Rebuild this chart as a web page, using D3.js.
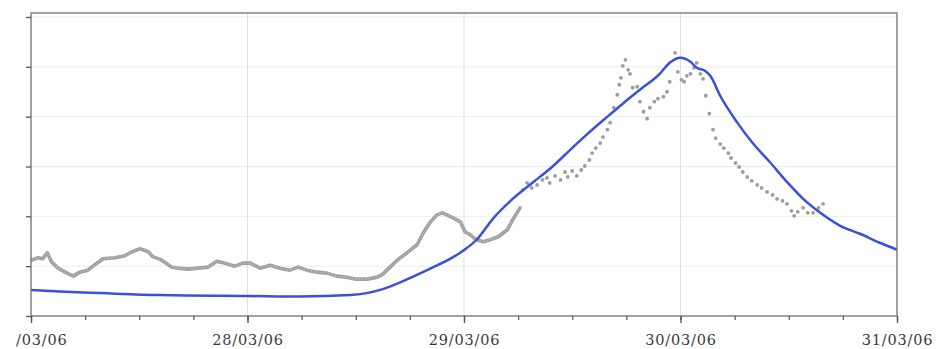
<!DOCTYPE html>
<html>
<head>
<meta charset="utf-8">
<script src="https://cdn.jsdelivr.net/npm/d3@7"></script>
<style>
  html, body { margin: 0; padding: 0; background: #fff; }
  svg { display: block; }
</style>
</head>
<body>
<div id="chart"></div>
<script>
// Time axis: hours elapsed since 27/03/06 00:00
const startTime = new Date(2006, 2, 27, 0, 0);
const endTime = new Date(2006, 2, 31, 0, 0);

// Modelled series (blue line)
const modelHours = [0, 3.2, 7.7, 14.3, 24.3, 29.8, 35.4, 39.0, 42.0, 44.6, 46.5, 47.9, 49.4, 51.2, 53.4,
  55.7, 57.5, 60.1, 61.6, 63.9, 65.6, 67.5, 69.7, 70.8, 72.0, 73.1, 73.8, 74.7, 75.3, 76.4, 78.3,
  80.0, 81.9, 83.8, 85.6, 87.5, 89.7, 91.9, 94.1, 96.0];
const modelValues = [5.2, 4.9, 4.6, 4.2, 4.0, 3.9, 4.2, 5.4, 7.6, 9.8, 11.5, 13.1, 15.3, 19.5, 23.5,
  26.9, 29.5, 33.9, 36.4, 40.0, 42.6, 45.4, 48.6, 50.8, 51.8, 51.0, 49.8, 49.2, 48.2, 44.2, 38.8,
  34.7, 30.9, 26.9, 23.5, 20.7, 18.1, 16.5, 14.7, 13.3];

// Observed series, continuous record (grey trace)
const obsHours = [0.1, 0.8, 1.3, 1.8, 2.3, 3.0, 4.0, 4.7, 5.4, 6.3, 7.3, 8.0, 9.3, 10.4, 11.2, 12.1,
  13.0, 13.5, 14.5, 15.6, 16.3, 17.4, 18.5, 19.6, 20.6, 21.5, 22.6, 23.5, 24.3, 25.4, 26.5, 27.6,
  28.7, 29.6, 30.6, 31.7, 32.8, 33.9, 35.0, 35.9, 37.3, 38.4, 39.0, 39.8, 40.6, 41.7, 42.8, 43.5,
  44.2, 45.0, 45.6, 46.1, 46.8, 47.6, 48.1, 48.7, 49.2, 50.1, 50.9, 51.8, 52.8, 53.4, 54.2];
const obsValues = [11.2, 11.7, 11.5, 12.7, 10.8, 9.6, 8.6, 8.0, 8.8, 9.2, 10.6, 11.5, 11.7, 12.1, 12.9, 13.5,
  12.9, 11.9, 11.2, 9.8, 9.6, 9.4, 9.6, 9.8, 11.0, 10.6, 10.0, 10.6, 10.6, 9.6, 10.2, 9.6,
  9.2, 9.8, 9.2, 8.8, 8.6, 8.0, 7.8, 7.4, 7.4, 7.8, 8.4, 9.8, 11.2, 12.7, 14.3, 16.7,
  18.7, 20.3, 20.7, 20.3, 19.7, 18.9, 16.9, 16.3, 15.5, 14.9, 15.3, 15.9, 17.3, 19.3, 21.7];

// Observed series, scattered readings (grey dots)
const scatterHours = [54.5, 55.0, 55.5, 56.1, 56.7, 57.2, 57.5, 58.1, 58.7, 59.2, 59.5, 60.0, 60.5, 61.0,
  61.4, 61.9, 62.2, 62.6, 63.1, 63.4, 63.9, 64.2, 64.6, 65.0, 65.2, 65.4, 65.6, 65.9, 66.2, 66.4,
  66.7, 67.2, 67.5, 67.9, 68.3, 68.6, 69.1, 69.5, 70.1, 70.5, 70.8, 71.4, 71.7, 72.1, 72.4, 72.7,
  73.1, 73.5, 73.8, 74.2, 74.5, 74.8, 75.2, 75.6, 75.9, 76.4, 76.8, 77.3, 77.6, 78.1, 78.5, 78.9,
  79.4, 79.9, 80.5, 81.0, 81.6, 82.2, 82.7, 83.3, 83.8, 84.3, 84.6, 85.0, 85.6, 86.1, 86.7, 87.3, 87.8];
const scatterValues = [25.3, 26.7, 25.7, 26.3, 27.3, 27.7, 26.7, 28.1, 27.3, 28.9, 27.9, 29.1, 28.1, 29.3,
  30.1, 31.3, 32.7, 33.7, 34.7, 35.9, 37.4, 38.8, 41.8, 44.4, 46.4, 47.8, 50.2, 51.4, 49.4, 48.6,
  45.8, 46.0, 43.0, 41.0, 39.6, 41.8, 43.0, 43.6, 44.0, 45.0, 47.0, 52.8, 49.0, 47.4, 47.0, 48.2,
  48.6, 49.8, 50.8, 48.6, 47.6, 44.2, 40.6, 37.4, 35.7, 34.5, 33.7, 32.7, 31.7, 30.7, 29.9, 28.9,
  27.9, 27.1, 26.3, 25.7, 24.9, 24.3, 23.5, 23.1, 22.5, 21.1, 20.1, 20.9, 21.7, 20.7, 20.7, 21.7, 22.5];

const yTicks = [0, 10, 20, 30, 40, 50, 60];
// Day labels; the first one only shows the part that fits on the page
const dayLabels = ["/03/06", "28/03/06", "29/03/06", "30/03/06", "31/03/06"];

const W = 938, H = 349;
const margin = { left: 31, right: 41, top: 13, bottom: 33 };
const toDate = h => new Date(startTime.getTime() + h * 3600e3);

const svg = d3.select("#chart").append("svg")
  .attr("width", W).attr("height", H)
  .attr("viewBox", `0 0 ${W} ${H}`);

const x = d3.scaleTime().domain([startTime, endTime]).range([margin.left, W - margin.right]);
const y = d3.scaleLinear().domain([0, 60.8]).range([H - margin.bottom, margin.top]);

const root = svg.append("g");

// Gridlines
const days = d3.timeDay.range(startTime, d3.timeDay.offset(endTime, 1));
root.append("g").selectAll("line").data(yTicks.slice(1)).join("line")
  .attr("x1", x.range()[0]).attr("x2", x.range()[1])
  .attr("y1", d => y(d)).attr("y2", d => y(d))
  .attr("stroke", "#ececec").attr("stroke-width", 1);
root.append("g").selectAll("line").data(days.slice(1, -1)).join("line")
  .attr("x1", d => x(d)).attr("x2", d => x(d))
  .attr("y1", y.range()[0]).attr("y2", y.range()[1])
  .attr("stroke", "#e0e0e0").attr("stroke-width", 1);

// Observed continuous trace
const obs = obsHours.map((h, i) => ({ t: toDate(h), v: obsValues[i] }));
root.append("path").datum(obs)
  .attr("fill", "none").attr("stroke", "#a0a0a0").attr("stroke-width", 3.6)
  .attr("stroke-linejoin", "round").attr("stroke-linecap", "round")
  .attr("d", d3.line().x(d => x(d.t)).y(d => y(d.v)));
root.append("path").datum(obs)
  .attr("fill", "none").attr("stroke", "#c6c6c6").attr("stroke-width", 1)
  .attr("stroke-dasharray", "1.5,2")
  .attr("d", d3.line().x(d => x(d.t)).y(d => y(d.v)));

// Observed scattered readings
const scat = scatterHours.map((h, i) => ({ t: toDate(h), v: scatterValues[i] }));
root.append("g").selectAll("circle").data(scat).join("circle")
  .attr("cx", d => x(d.t)).attr("cy", d => y(d.v)).attr("r", 1.9)
  .attr("fill", "#9c9c9c");

// Model line
const model = modelHours.map((h, i) => ({ t: toDate(h), v: modelValues[i] }));
root.append("path").datum(model)
  .attr("fill", "none").attr("stroke", "#3b50d8").attr("stroke-width", 2.5)
  .attr("stroke-linejoin", "round")
  .attr("d", d3.line().x(d => x(d.t)).y(d => y(d.v)).curve(d3.curveMonotoneX));

// Frame
root.append("rect")
  .attr("x", x.range()[0]).attr("y", y.range()[1])
  .attr("width", x.range()[1] - x.range()[0]).attr("height", y.range()[0] - y.range()[1])
  .attr("fill", "none").attr("stroke", "#7a7a7a").attr("stroke-width", 1.4);

// Y axis ticks
const yAxis = root.append("g").attr("transform", `translate(${x.range()[0]},0)`)
  .call(d3.axisLeft(y).tickValues(yTicks).tickSize(5).tickFormat(""));
yAxis.select(".domain").remove();
yAxis.selectAll("line").attr("stroke", "#555").attr("stroke-width", 1.3);

// X axis: minor ticks every 6 hours, major ticks with labels each day
const xMinor = root.append("g").attr("transform", `translate(0,${y.range()[0]})`)
  .call(d3.axisBottom(x).ticks(d3.timeHour.every(6)).tickSize(4).tickFormat(""));
xMinor.select(".domain").remove();
xMinor.selectAll("line").attr("stroke", "#555").attr("stroke-width", 1.2);

const majorDays = days.filter(d => d <= endTime);
const xMajor = root.append("g").attr("transform", `translate(0,${y.range()[0]})`)
  .call(d3.axisBottom(x).tickValues(majorDays).tickSize(7).tickPadding(12)
    .tickFormat((d, i) => dayLabels[i]));
xMajor.select(".domain").remove();
xMajor.selectAll("line").attr("stroke", "#555").attr("stroke-width", 1.4);
xMajor.selectAll("text")
  .attr("font-family", "'DejaVu Serif', serif")
  .attr("font-size", 14.5)
  .attr("letter-spacing", "0.8px")
  .attr("fill", "#3a3a3a");
// the truncated first label ends where the full label would end
xMajor.selectAll(".tick").filter((d, i) => i === 0).select("text")
  .attr("text-anchor", "end").attr("dx", 36);
</script>
</body>
</html>
